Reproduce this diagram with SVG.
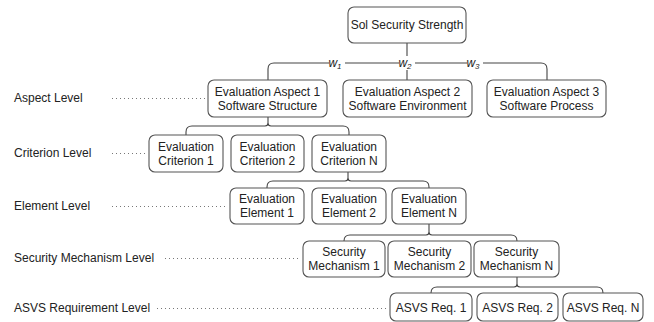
<svg xmlns="http://www.w3.org/2000/svg" width="654" height="322" viewBox="0 0 654 322">
<style>
.box{fill:#fff;stroke:#555;stroke-width:1.1}
.t{font-family:"Liberation Sans",Arial,sans-serif;font-size:12px;fill:#222;text-anchor:middle}
.lv{font-family:"Liberation Sans",Arial,sans-serif;font-size:12px;fill:#222}
.c{fill:none;stroke:#444;stroke-width:1.1}
.dot{stroke:#777;stroke-width:1;stroke-dasharray:1 3}
.w{font-family:"Liberation Sans",Arial,sans-serif;font-size:12px;font-style:italic;fill:#222;text-anchor:middle}
</style>
<rect width="654" height="322" fill="#fff"/>
<g id="levels">
<text class="lv" x="14" y="102">Aspect Level</text>
<text class="lv" x="14" y="157">Criterion Level</text>
<text class="lv" x="14" y="210">Element Level</text>
<text class="lv" x="14" y="262">Security Mechanism Level</text>
<text class="lv" x="14" y="312">ASVS Requirement Level</text>
<line class="dot" x1="112" y1="98.5" x2="205" y2="98.5"/>
<line class="dot" x1="112" y1="153.5" x2="146" y2="153.5"/>
<line class="dot" x1="112" y1="206.5" x2="228" y2="206.5"/>
<line class="dot" x1="165" y1="258.5" x2="300" y2="258.5"/>
<line class="dot" x1="157" y1="308.5" x2="388" y2="308.5"/>
</g>
<g id="connectors">
<path class="c" d="M407 43 V63"/>
<path class="c" d="M268 80 V69 Q268 63 274 63 H541 Q547 63 547 69 V80"/>
<path class="c" d="M407 63 V80"/>
<path class="c" d="M268 117 V123 Q268 126 265 126 H192 Q186 126 186 132 V135 M268 123 Q268 126 271 126 H343 Q349 126 349 132 V135"/>
<path class="c" d="M348 172 V178 Q348 181 345 181 H273 Q267 181 267 187 V188 M348 178 Q348 181 351 181 H423 Q429 181 429 187 V188"/>
<path class="c" d="M429 224 V232 Q429 235 426 235 H350 Q344 235 344 241 M429 232 Q429 235 432 235 H511 Q517 235 517 241"/>
<path class="c" d="M517 277 V284 Q517 287 514 287 H437 Q431 287 431 293 M517 284 Q517 287 520 287 H597 Q603 287 603 293"/>
<rect x="329" y="56" width="16" height="14" fill="#fff"/>
<rect x="399" y="56" width="16" height="14" fill="#fff"/>
<rect x="467" y="56" width="16" height="14" fill="#fff"/>
<text class="w" x="335" y="67">w<tspan font-size="8" dy="2">1</tspan></text>
<text class="w" x="405" y="67">w<tspan font-size="8" dy="2">2</tspan></text>
<text class="w" x="473" y="67">w<tspan font-size="8" dy="2">3</tspan></text>
</g>
<g id="root"><rect class="box" x="348" y="7" width="118" height="36" rx="6"/><text class="t" x="407" y="29">Sol Security Strength</text></g>
<g id="aspect1"><rect class="box" x="208" y="80" width="119" height="37" rx="6"/><text class="t" x="267.5" y="95.5">Evaluation Aspect 1</text><text class="t" x="267.5" y="109.5">Software Structure</text></g>
<g id="aspect2"><rect class="box" x="343" y="80" width="129" height="37" rx="6"/><text class="t" x="407.5" y="95.5">Evaluation Aspect 2</text><text class="t" x="407.5" y="109.5">Software Environment</text></g>
<g id="aspect3"><rect class="box" x="487" y="80" width="119" height="37" rx="6"/><text class="t" x="546.5" y="95.5">Evaluation Aspect 3</text><text class="t" x="546.5" y="109.5">Software Process</text></g>
<g id="crit1"><rect class="box" x="149" y="135" width="74" height="37" rx="6"/><text class="t" x="186" y="150.5">Evaluation</text><text class="t" x="186" y="164.5">Criterion 1</text></g>
<g id="crit2"><rect class="box" x="231" y="135" width="73" height="37" rx="6"/><text class="t" x="267.5" y="150.5">Evaluation</text><text class="t" x="267.5" y="164.5">Criterion 2</text></g>
<g id="critN"><rect class="box" x="312" y="135" width="74" height="37" rx="6"/><text class="t" x="349" y="150.5">Evaluation</text><text class="t" x="349" y="164.5">Criterion N</text></g>
<g id="elem1"><rect class="box" x="230" y="188" width="74" height="36" rx="6"/><text class="t" x="267" y="203">Evaluation</text><text class="t" x="267" y="217">Element 1</text></g>
<g id="elem2"><rect class="box" x="312" y="188" width="74" height="36" rx="6"/><text class="t" x="349" y="203">Evaluation</text><text class="t" x="349" y="217">Element 2</text></g>
<g id="elemN"><rect class="box" x="392" y="188" width="74" height="36" rx="6"/><text class="t" x="429" y="203">Evaluation</text><text class="t" x="429" y="217">Element N</text></g>
<g id="mech1"><rect class="box" x="303" y="241" width="82" height="36" rx="6"/><text class="t" x="344" y="256">Security</text><text class="t" x="344" y="270">Mechanism 1</text></g>
<g id="mech2"><rect class="box" x="388" y="241" width="83" height="36" rx="6"/><text class="t" x="429.5" y="256">Security</text><text class="t" x="429.5" y="270">Mechanism 2</text></g>
<g id="mechN"><rect class="box" x="474" y="241" width="85" height="36" rx="6"/><text class="t" x="516.5" y="256">Security</text><text class="t" x="516.5" y="270">Mechanism N</text></g>
<g id="asvs1"><rect class="box" x="390" y="293" width="82" height="28" rx="6"/><text class="t" x="431" y="312">ASVS Req. 1</text></g>
<g id="asvs2"><rect class="box" x="477" y="293" width="81" height="28" rx="6"/><text class="t" x="517.5" y="312">ASVS Req. 2</text></g>
<g id="asvsN"><rect class="box" x="563" y="293" width="80" height="28" rx="6"/><text class="t" x="603" y="312">ASVS Req. N</text></g>
</svg>
